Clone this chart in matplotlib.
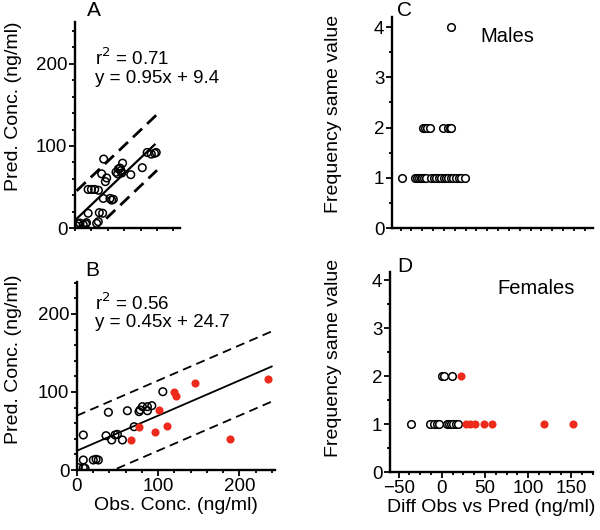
import numpy as np
import matplotlib
matplotlib.use("Agg")
import matplotlib.pyplot as plt
from matplotlib.ticker import MultipleLocator, NullFormatter

plt.rcParams['font.family'] = ['Liberation Sans', 'DejaVu Sans']

# ------------------------------------------------------------
# data
# ------------------------------------------------------------

# panel A - males, observed vs predicted
a_obs = [88, 93, 97, 99, 82, 68, 58, 50, 53, 56, 52, 55, 57, 35, 32.5, 38.6, 37,
         16, 20, 24, 28.5, 34.5, 42.7, 44.7, 46.7, 16, 29.6, 33.7, 28.4, 26.4,
         6, 10, 13, 2, 4, 14]
a_pred = [92, 90, 91, 92, 73.5, 65, 79, 68, 72, 70, 66, 73, 67, 84, 66, 61, 56.5,
          47, 47, 47, 46, 36, 36, 34, 35, 18, 18.7, 18, 7.7, 5.7,
          6, 4, 5, 2.4, 5, 6.5]
a_fit = (0.95, 9.4)          # slope, intercept
a_r2 = 0.71
a_band = (34, -34)           # upper / lower offsets of dashed lines
a_line_x = (0, 97)
a_upper_x = (2, 100)
a_lower_x = (38, 100)

# panel B - females
b_obs_m = [105.8, 80.6, 77.8, 86.8, 92.2, 86.8, 76.5, 62.1, 38.7, 70.4, 35.8, 46.9,
           49.8, 42.8, 56, 7.8, 7.8, 20.1, 23.5, 26.3, 1.6, 7.8, 9.9]
b_pred_m = [100.4, 81.2, 77, 81.2, 82.5, 76, 74.8, 76, 74, 55.5, 44, 44.9,
            45.7, 38.5, 38.5, 44.9, 12.8, 12.8, 13.7, 12.8, 3, 3, 2.2]
b_obs_r = [66.7, 77, 96.3, 111.5, 101.6, 120.1, 122.2, 145.7, 188.9, 235]
b_pred_r = [38.5, 55.5, 49.1, 56.4, 77, 100.4, 94.9, 111, 39.7, 117]
b_fit = (0.45, 24.7)
b_r2 = 0.56
b_band = (45, -45)
b_line_x = (0, 240)

# panel C - males, frequency of same difference
c_x1 = [-48, -34, -31, -29, -27, -25, -23, -21, -15, -12, -9, -6, -3, 0, 2, 5, 8,
        11, 14, 17, 20, 24]
c_x2 = [-24, -22, -19.6, -16.5, -1, 4.6, 6.5, 8.4]
c_x4 = [8.4]

# panel D - females
d_x1 = [-35.8, -13.5, -9.6, -5.8, -3.1, 5.8, 8.5, 10.8, 13.5, 16.2, 18.5]
d_x2 = [0, 3, 11.5]
d_x1_red = [28, 32.7, 38.5, 48.9, 58.5, 118.6, 152]
d_x2_red = [22.3]

RED = '#ee2a1b'
FS = 13.5

# ------------------------------------------------------------
# figure
# ------------------------------------------------------------

fig = plt.figure(figsize=(6, 5.3), dpi=100)

axA = fig.add_axes([0.125, 0.5698, 0.175, 0.3887])
axB = fig.add_axes([0.1283, 0.1132, 0.33, 0.3547])
axC = fig.add_axes([0.6533, 0.5698, 0.335, 0.398])
axD = fig.add_axes([0.65, 0.1094, 0.3383, 0.377])


def style(ax):
    for s in ['top', 'right']:
        ax.spines[s].set_visible(False)
    for s in ['left', 'bottom']:
        ax.spines[s].set_linewidth(1.7)
    ax.tick_params(which='major', direction='out', length=4, width=1.3,
                   labelsize=FS, pad=1.5)
    ax.tick_params(which='minor', direction='out', length=2.5, width=1.3)


mk = dict(s=30, linewidths=1.1)

# ---------------- A ----------------
axA.scatter(a_obs, a_pred, facecolors='none', edgecolors='black', zorder=3, **mk)
xs = np.array(a_line_x)
axA.plot(xs, a_fit[0] * xs + a_fit[1], color='black', lw=1.6)
xs = np.array(a_upper_x)
axA.plot(xs, a_fit[0] * xs + a_fit[1] + a_band[0], 'k--', lw=2, dashes=(4.5, 2.5))
xs = np.array(a_lower_x)
axA.plot(xs, a_fit[0] * xs + a_fit[1] + a_band[1], 'k--', lw=2, dashes=(4.5, 2.5))
axA.set_xlim(0, 128)
axA.set_ylim(0, 251)
axA.xaxis.set_major_locator(MultipleLocator(20))
axA.xaxis.set_major_formatter(NullFormatter())
axA.yaxis.set_major_locator(MultipleLocator(100))
axA.yaxis.set_minor_locator(MultipleLocator(20))
style(axA)
axA.tick_params(axis='x', which='major', length=2.5)
axA.text(0.19, 0.825, 'r$^2$ = %.2f' % a_r2, transform=axA.transAxes,
         fontsize=FS, va='center')
axA.text(0.19, 0.728, 'y = %.2fx + %.1f' % a_fit, transform=axA.transAxes,
         fontsize=FS, va='center')

# ---------------- B ----------------
axB.scatter(b_obs_m, b_pred_m, facecolors='none', edgecolors='black', zorder=3, **mk)
axB.scatter(b_obs_r, b_pred_r, color=RED, zorder=3, s=34, linewidths=0)
xs = np.array(b_line_x)
axB.plot(xs, b_fit[0] * xs + b_fit[1], color='black', lw=1.3)
axB.plot(xs, b_fit[0] * xs + b_fit[1] + b_band[0], 'k--', lw=1.3, dashes=(5, 3))
axB.plot(xs, b_fit[0] * xs + b_fit[1] + b_band[1], 'k--', lw=1.3, dashes=(5, 3))
axB.set_xlim(0, 244)
axB.set_ylim(0, 241)
axB.xaxis.set_major_locator(MultipleLocator(100))
axB.xaxis.set_minor_locator(MultipleLocator(20))
axB.yaxis.set_major_locator(MultipleLocator(100))
axB.yaxis.set_minor_locator(MultipleLocator(20))
style(axB)
axB.text(0.09, 0.888, 'r$^2$ = %.2f' % b_r2, transform=axB.transAxes,
         fontsize=FS, va='center')
axB.text(0.09, 0.782, 'y = %.2fx + %.1f' % b_fit, transform=axB.transAxes,
         fontsize=FS, va='center')
axB.set_xlabel('Obs. Conc. (ng/ml)', fontsize=14, labelpad=2)

# ---------------- C ----------------
axC.scatter(c_x1, [1] * len(c_x1), facecolors='white', edgecolors='black', zorder=3, **mk)
axC.scatter(c_x2, [2] * len(c_x2), facecolors='white', edgecolors='black', zorder=3, **mk)
axC.scatter(c_x4, [4] * len(c_x4), facecolors='white', edgecolors='black', zorder=3, **mk)
axC.set_xlim(-60, 172)
axC.set_ylim(0, 4.2)
axC.xaxis.set_major_locator(MultipleLocator(12.5))
axC.xaxis.set_major_formatter(NullFormatter())
axC.yaxis.set_major_locator(MultipleLocator(1))
axC.yaxis.set_minor_locator(MultipleLocator(0.5))
style(axC)
axC.tick_params(axis='x', which='major', length=2.5)
axC.text(0.44, 0.91, 'Males', transform=axC.transAxes, fontsize=14.5, va='center')

# ---------------- D ----------------
axD.scatter(d_x1, [1] * len(d_x1), facecolors='white', edgecolors='black', zorder=3, **mk)
axD.scatter(d_x2, [2] * len(d_x2), facecolors='white', edgecolors='black', zorder=3, **mk)
axD.scatter(d_x1_red, [1] * len(d_x1_red), color=RED, zorder=4, s=34, linewidths=0)
axD.scatter(d_x2_red, [2] * len(d_x2_red), color=RED, zorder=4, s=34, linewidths=0)
axD.set_xlim(-60, 175)
axD.set_ylim(0, 4.17)
axD.xaxis.set_major_locator(MultipleLocator(50))
axD.xaxis.set_minor_locator(MultipleLocator(12.5))
axD.yaxis.set_major_locator(MultipleLocator(1))
axD.yaxis.set_minor_locator(MultipleLocator(0.5))
style(axD)
axD.text(0.53, 0.92, 'Females', transform=axD.transAxes, fontsize=14.5, va='center')
axD.set_xlabel('Diff Obs vs Pred (ng/ml)', fontsize=14, labelpad=2)

# ---------------- labels ----------------
fig.text(0.022, 0.80, 'Pred. Conc. (ng/ml)', rotation=90, fontsize=14,
         ha='center', va='center')
fig.text(0.022, 0.323, 'Pred. Conc. (ng/ml)', rotation=90, fontsize=14,
         ha='center', va='center')
fig.text(0.555, 0.785, 'Frequency same value', rotation=90, fontsize=14,
         ha='center', va='center')
fig.text(0.555, 0.325, 'Frequency same value', rotation=90, fontsize=14,
         ha='center', va='center')

for lab, x, y in [('A', 94, 10), ('B', 92, 270), ('C', 405, 10), ('D', 405, 267)]:
    fig.text(x / 600, 1 - y / 530, lab, fontsize=15, ha='center', va='center')

fig.savefig('out.png', dpi=100)
